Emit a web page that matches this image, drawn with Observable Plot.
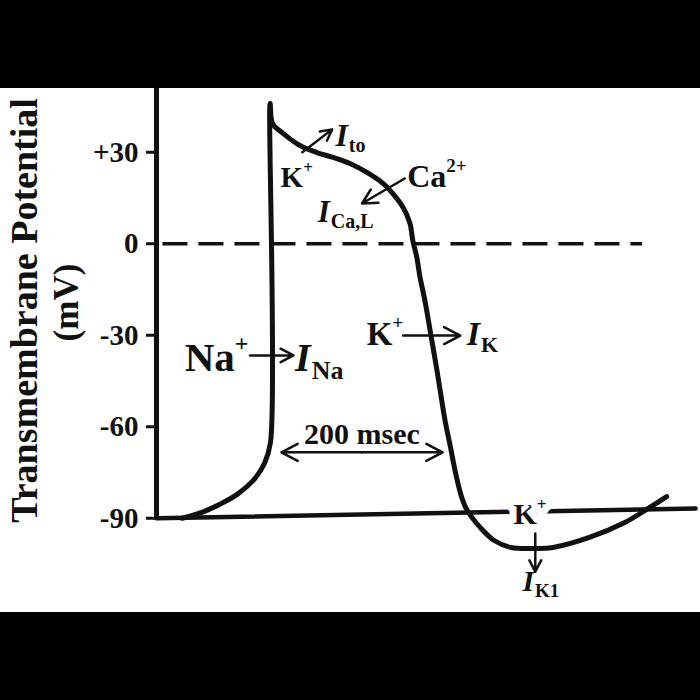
<!DOCTYPE html>
<html><head><meta charset="utf-8">
<script src="https://cdn.jsdelivr.net/npm/d3@7"></script>
<script src="https://cdn.jsdelivr.net/npm/@observablehq/plot@0.6"></script>
<style>
html,body{margin:0;padding:0;background:#000;width:700px;height:700px;overflow:hidden}
#chart{position:absolute;top:88px;left:0;width:700px;height:524px;background:#fff}
#chart svg text{font-family:"Liberation Serif","Times New Roman",serif;font-weight:bold}
</style></head><body><div id="chart"></div>
<script>
// ---- data (time in ms, potential in mV) ----
const yTicks = [30, 0, -30, -60, -90];
const apTime = [32, 57, 78, 101, 122, 134, 141.5, 141, 144, 157, 178, 199, 219, 240, 261, 281, 293, 306, 314.5, 318, 323, 327, 333, 340.6, 348, 358, 364.3, 371.7, 378, 384.2, 391.6, 401.5, 419, 440, 471, 492, 537, 581, 610, 633];
const apVolt = [-90, -88, -85.5, -82, -77, -72, -65, 46, 39.4, 36.2, 32.2, 29.9, 28.3, 26.3, 23.4, 19.8, 16.5, 11.9, 6.7, 1.1, -4.5, -11, -18.6, -30.1, -41.5, -57.9, -66.1, -75.9, -82.5, -86.8, -89.8, -93, -97.3, -99.6, -99.9, -99.6, -96.3, -91.4, -86.8, -82.9];
const restTime = [0, 669];
const restVolt = [-90, -86.8];
const zeroSpan = [8, 603];
const msecSpan = [155, 355];
const msecVolt = -68.4;
const msecText = "200 msec";
const yTitle = "Transmembrane Potential";
const yUnit = "(mV)";
const ionArrows = [
  {x1: 181, y1: 30, x2: 218, y2: 37.5},
  {x1: 308, y1: 21.4, x2: 255, y2: 13.2},
  {x1: 116, y1: -36.6, x2: 170, y2: -36.6},
  {x1: 306, y1: -30.1, x2: 377, y2: -30.1},
  {x1: 470, y1: -95, x2: 470, y2: -107.5}
];
const ionLabels = [
  {t: 154, v: 18.5, main: "K", sup: "+"},
  {t: 222, v: 32.2, main: "I", sub: "to"},
  {t: 311, v: 18.5, main: "Ca", sup: "2+"},
  {t: 200, v: 7, main: "I", sub: "Ca,L"},
  {t: 35, v: -41.6, main: "Na", sup: "+"},
  {t: 172, v: -41.6, main: "I", sub: "Na"},
  {t: 261, v: -33.3, main: "K", sup: "+"},
  {t: 385, v: -33.3, main: "I", sub: "K"},
  {t: 454, v: -113.7, main: "I", sub: "K1"}
];
const restLabel = [{t: 443, v: -91.8, main: "K", sup: "+"}];

// ---- styling ----
const ink = "#111";
const labelSizes = [29, 32, 32, 31, 41, 40, 33, 34, 30];
const ap = apTime.map((t, i) => ({t, v: apVolt[i]}));
const rest = restTime.map((t, i) => ({t, v: restVolt[i]}));
const mid = (msecSpan[0] + msecSpan[1]) / 2;

const svg = Plot.plot({
  width: 700, height: 524,
  marginLeft: 156, marginRight: 0, marginTop: 0, marginBottom: 0,
  x: {domain: [0, 675], axis: null},
  y: {domain: [-120.9, 50.9]},
  style: {background: "white", overflow: "visible"},
  marks: [
    Plot.ruleY([0], {x1: zeroSpan[0], x2: zeroSpan[1], stroke: ink, strokeWidth: 3.5, strokeDasharray: "25,11"}),
    Plot.line(rest, {x: "t", y: "v", stroke: ink, strokeWidth: 4.5}),
    Plot.text(restLabel, {x: "t", y: "v", text: "main", textAnchor: "start", lineAnchor: "bottom", fontSize: 30, fill: ink, stroke: "white", strokeWidth: 14, ariaDescription: "rest-label"}),
    Plot.line(ap, {x: "t", y: "v", stroke: ink, strokeWidth: 5, curve: "catmull-rom", strokeLinejoin: "round"}),
    Plot.ruleX([0], {y1: -90.5, y2: 50.9, stroke: ink, strokeWidth: 5}),
    Plot.axisY(yTicks, {tickSize: 10, tickPadding: 8, tickFormat: d => d > 0 ? "+" + d : String(d), fontSize: 29, strokeWidth: 3, stroke: ink, fill: ink, label: null}),
    Plot.arrow(ionArrows, {x1: "x1", y1: "y1", x2: "x2", y2: "y2", stroke: ink, strokeWidth: 2.5, headLength: 11, headAngle: 55}),
    Plot.arrow([{a: mid, b: msecSpan[0]}, {a: mid, b: msecSpan[1]}], {x1: "a", x2: "b", y1: msecVolt, y2: msecVolt, stroke: ink, strokeWidth: 2.5, headLength: 11, headAngle: 55}),
    Plot.text([msecText], {x: mid, y: msecVolt, dy: -8, lineAnchor: "bottom", fontSize: 30, fill: ink}),
    Plot.text(ionLabels, {x: "t", y: "v", text: "main", textAnchor: "start", lineAnchor: "bottom", fontSize: 32, fill: ink, ariaDescription: "ion-labels"}),
    Plot.text([yTitle], {frameAnchor: "left", textAnchor: "middle", lineAnchor: "middle", dx: -132, dy: -40, rotate: -90, fontSize: 38, fill: ink}),
    Plot.text([yUnit], {frameAnchor: "left", textAnchor: "middle", lineAnchor: "middle", dx: -90, dy: -48, rotate: -90, fontSize: 35, fill: ink})
  ]
});

function addScripts(sel, data, sizes) {
  const els = svg.querySelectorAll(`g[aria-description="${sel}"] text`);
  els.forEach((el, i) => {
    const d = data[i];
    const size = sizes[i];
    el.textContent = "";
    el.setAttribute("font-size", size);
    const m = document.createElementNS("http://www.w3.org/2000/svg", "tspan");
    m.textContent = d.main;
    if (d.main === "I") m.setAttribute("font-style", "italic");
    el.appendChild(m);
    if (d.sub) {
      const s = document.createElementNS("http://www.w3.org/2000/svg", "tspan");
      s.textContent = d.sub;
      s.setAttribute("font-size", Math.round(size * 0.64));
      s.setAttribute("dy", Math.round(size * 0.2));
      s.setAttribute("dx", d.main === "I" ? 1 : 0);
      el.appendChild(s);
    }
    if (d.sup) {
      const s = document.createElementNS("http://www.w3.org/2000/svg", "tspan");
      s.textContent = d.sup;
      s.setAttribute("font-size", Math.round(size * 0.58));
      s.setAttribute("dy", -Math.round(size * 0.48));
      el.appendChild(s);
    }
  });
}
addScripts("ion-labels", ionLabels, labelSizes);
addScripts("rest-label", restLabel, [30]);

document.getElementById("chart").appendChild(svg);
</script>
</body></html>
